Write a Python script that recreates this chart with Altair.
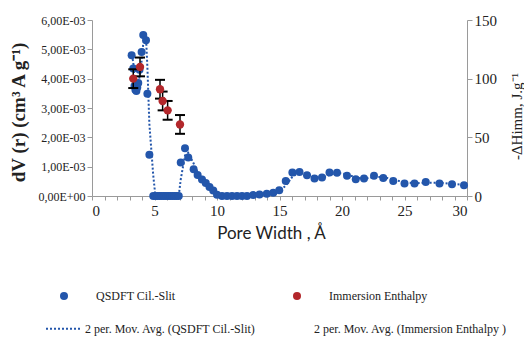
import altair as alt
import pandas as pd

# ---------------- data ----------------
qsdft_x = [3.17, 3.30, 3.40, 3.47, 3.55, 3.62, 3.70, 3.80, 3.97, 4.10, 4.32, 4.43, 4.59,
           4.90, 5.07, 5.24, 5.41, 5.58, 5.75, 5.92, 6.09, 6.26, 6.43, 6.60, 6.77, 6.94,
           7.10, 7.44, 7.70, 8.13, 8.45, 8.80, 9.10, 9.40, 9.70, 10.00,
           10.40, 10.80, 11.20, 11.60, 12.00, 12.40, 12.90, 13.40, 13.98, 14.50, 14.98,
           15.50, 16.03, 16.60, 17.20, 17.80, 18.40, 19.00, 19.60, 20.40, 21.10, 21.76,
           22.56, 23.30, 24.10, 25.00, 25.80, 26.70, 27.80, 28.80, 29.76]
qsdft_dv_e3 = [4.80, 4.35, 3.75, 3.62, 3.58, 3.70, 3.85, 4.30, 4.91, 5.49, 5.31, 3.49, 1.41,
               0, 0, 0, 0, 0, 0, 0, 0, 0, 0, 0, 0, 0,
               1.14, 1.63, 1.31, 0.91, 0.72, 0.56, 0.44, 0.31, 0.19, 0.04,
               0, 0, 0, 0, 0, 0, 0.03, 0.05, 0.08, 0.11, 0.20,
               0.51, 0.80, 0.82, 0.71, 0.60, 0.63, 0.80, 0.79, 0.69, 0.57, 0.60,
               0.69, 0.61, 0.51, 0.43, 0.43, 0.48, 0.43, 0.40, 0.37]

enth_x = [3.30, 3.84, 5.44, 5.65, 6.05, 7.04]
enth_val = [100, 110, 91, 81, 73, 61]
enth_err = [8, 8, 8, 8, 8, 8]

left_tick_values = [0, 1, 2, 3, 4, 5, 6]
left_tick_labels = ["0,00E+00", "1,00E-03", "2,00E-03", "3,00E-03",
                    "4,00E-03", "5,00E-03", "6,00E-03"]
right_tick_values = [0, 50, 100, 150]
x_tick_values = list(range(0, 31))

series_names = ["QSDFT Cil.-Slit", "Immersion Enthalpy"]
ma_names = ["2 per. Mov. Avg. (QSDFT Cil.-Slit)", "2 per. Mov. Avg. (Immersion Enthalpy )"]

BLUE = "#2356ab"
RED = "#b3272b"
AXIS_GRAY = "#9a9a9a"
SERIF = "Liberation Serif"

blue_df = pd.DataFrame({"x": qsdft_x, "y": qsdft_dv_e3,
                        "series": series_names[0], "ma_name": ma_names[0]})
red_df = pd.DataFrame({"x": enth_x, "y": enth_val, "err": enth_err,
                       "series": series_names[1]})

# ---------------- axes ----------------
x_axis = alt.Axis(values=x_tick_values,
                  labelExpr="datum.value % 5 == 0 ? datum.value : ''",
                  labelOverlap=False, labelFont=SERIF, labelFontSize=15,
                  labelColor="#222", labelPadding=3,
                  tickSize=4, tickColor=AXIS_GRAY, domainColor=AXIS_GRAY,
                  title="Pore Width , Å", titleFont="Lato", titleFontSize=17,
                  titleFontWeight="normal", titleColor="#222",
                  titleX=179, titleY=37, titleBaseline="middle", titleAlign="center")
x_enc = alt.X("x:Q", scale=alt.Scale(domain=[0, 30], nice=False, zero=False), axis=x_axis)

label_arr = "[" + ",".join("'%s'" % s for s in left_tick_labels) + "]"
left_axis = alt.Axis(orient="left", values=left_tick_values,
                     labelExpr=label_arr + "[datum.value]",
                     labelFont=SERIF, labelFontSize=12, labelColor="#222",
                     tickSize=5, tickColor=AXIS_GRAY, domainColor=AXIS_GRAY,
                     title="dV (r) (cm³ A g⁻¹)", titleFont=SERIF, titleFontSize=19,
                     titleFontWeight="bold", titleColor="#222", titleAngle=-90,
                     titleX=-74, titleY=92, titleAlign="center", titleBaseline="middle")
right_axis = alt.Axis(orient="right", values=right_tick_values,
                      labelFont=SERIF, labelFontSize=15, labelColor="#222",
                      tickSize=5, tickColor=AXIS_GRAY, domainColor=AXIS_GRAY,
                      title="-ΔHimm, J.g⁻¹", titleFont=SERIF, titleFontSize=15,
                      titleFontWeight="normal", titleColor="#222", titleAngle=-90,
                      titleX=49, titleY=96, titleAlign="center", titleBaseline="middle")

left_scale = alt.Scale(domain=[0, 6], nice=False)
right_scale = alt.Scale(domain=[0, 150], nice=False)

color_enc = alt.Color("series:N",
                      scale=alt.Scale(domain=series_names, range=[BLUE, RED]),
                      legend=alt.Legend(orient="none", legendX=-34, legendY=270,
                                        direction="horizontal", columns=2, title=None,
                                        padding=0, labelFont=SERIF, labelFontSize=12,
                                        labelColor="#222", labelOffset=26, labelLimit=400,
                                        symbolSize=64, symbolType="circle",
                                        symbolOpacity=1, columnPadding=115))

# ---------------- blue layers ----------------
ma_line = alt.Chart(blue_df).transform_window(
    ma="mean(y)", frame=[-1, 0], sort=[alt.SortField("x")]
).mark_line(color=BLUE, strokeWidth=2).encode(
    x=x_enc,
    y=alt.Y("ma:Q", scale=left_scale, axis=left_axis),
    strokeDash=alt.StrokeDash("ma_name:N",
                              scale=alt.Scale(domain=ma_names, range=[[2, 2], [0, 1000]]),
                              legend=alt.Legend(orient="none", legendX=-47, legendY=290,
                                                direction="horizontal", columns=2,
                                                title=None, padding=0, labelFont=SERIF,
                                                labelFontSize=12, labelColor="#222",
                                                labelOffset=3, labelLimit=400,
                                                symbolSize=1225,
                                                symbolStrokeColor=BLUE,
                                                symbolStrokeWidth=2, columnPadding=15)),
    order="x:Q",
)

blue_pts = alt.Chart(blue_df).mark_circle(size=64, opacity=1).encode(
    x=x_enc,
    y=alt.Y("y:Q", scale=left_scale, axis=left_axis),
    color=color_enc,
)

blue_layer = alt.layer(ma_line, blue_pts)

# ---------------- red layers ----------------
red_base = alt.Chart(red_df).transform_calculate(
    lo="datum.y - datum.err", hi="datum.y + datum.err"
)
err_rule = red_base.mark_rule(color="black", strokeWidth=1.5).encode(
    x=x_enc,
    y=alt.Y("lo:Q", scale=right_scale, axis=right_axis),
    y2="hi:Q",
)
cap_lo = red_base.mark_tick(color="black", orient="horizontal", size=10, thickness=2,
                            opacity=1).encode(
    x=x_enc, y=alt.Y("lo:Q", scale=right_scale, axis=right_axis))
cap_hi = red_base.mark_tick(color="black", orient="horizontal", size=10, thickness=2,
                            opacity=1).encode(
    x=x_enc, y=alt.Y("hi:Q", scale=right_scale, axis=right_axis))
red_pts = alt.Chart(red_df).mark_circle(size=70, opacity=1).encode(
    x=x_enc,
    y=alt.Y("y:Q", scale=right_scale, axis=right_axis),
    color=color_enc,
)
red_layer = alt.layer(err_rule, cap_lo, cap_hi, red_pts)

chart = alt.layer(blue_layer, red_layer).resolve_scale(
    y="independent"
).properties(
    width=375, height=176,
    padding={"left": 92, "top": 20, "right": 57, "bottom": 146},
    autosize=alt.AutoSizeParams(type="none"),
    background="white",
).configure_view(stroke=None).configure_axis(grid=False)

chart.save("out.html", embed_options={"renderer": "svg", "actions": False})
